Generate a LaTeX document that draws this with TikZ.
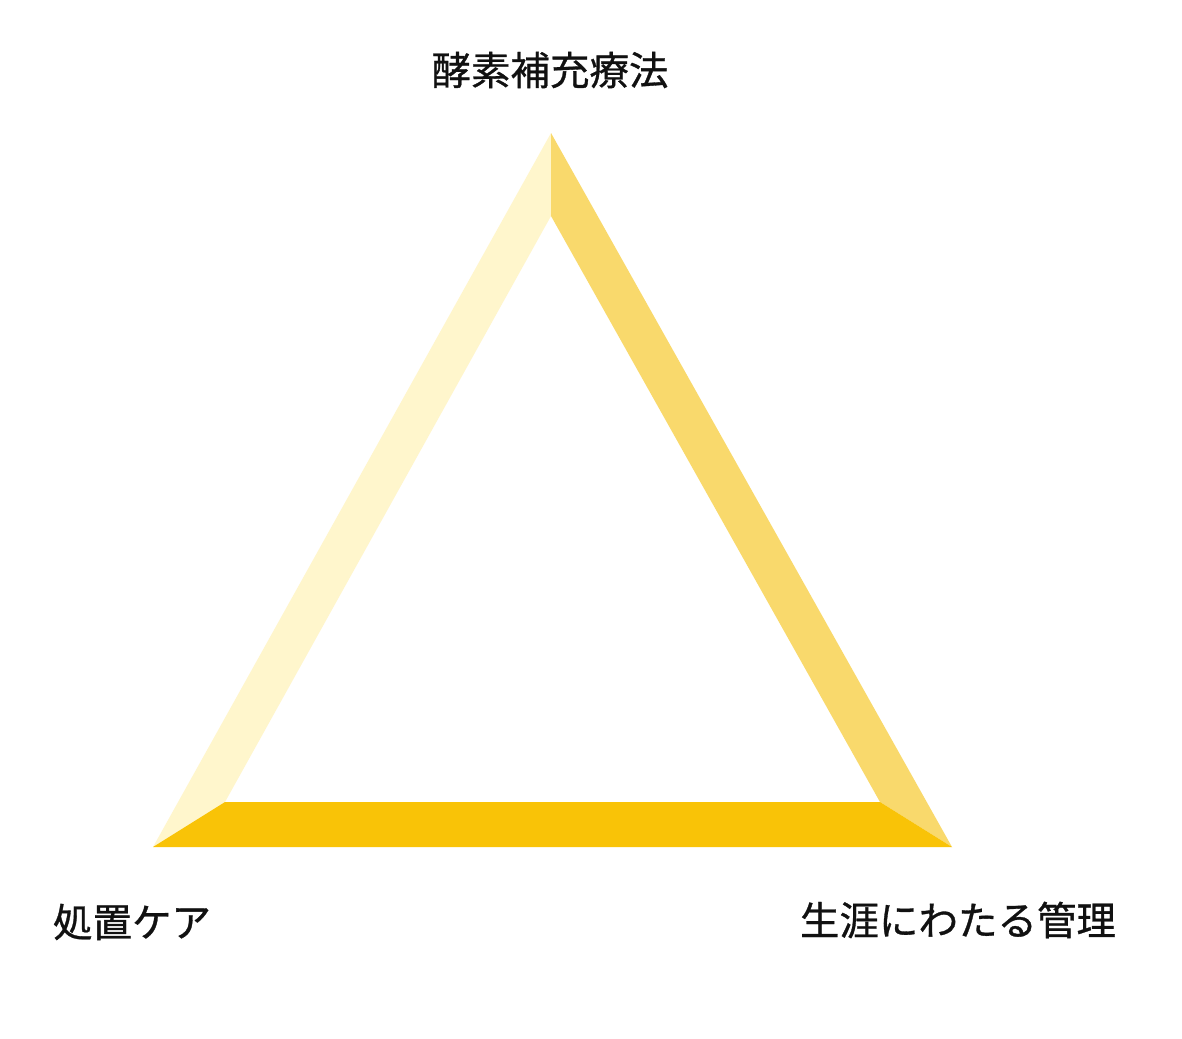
\documentclass[tikz,border=0pt]{standalone}
\usepackage{fontspec}
\newfontfamily\jpfont[FakeBold=0.8]{Noto Sans CJK JP}
\definecolor{leftface}{HTML}{FFF6CC}
\definecolor{rightface}{HTML}{F9D96C}
\definecolor{bottomface}{HTML}{F9C307}
\definecolor{labeltext}{HTML}{111111}
\tikzset{
  lbl/.style={font=\jpfont\fontsize{39.5}{42}\selectfont, text=labeltext, inner sep=0pt, anchor=center},
}
\begin{document}
\begin{tikzpicture}[x=1pt,y=-1pt]
\useasboundingbox[fill=white] (0,0) rectangle (1182,1038);
% outer vertices
\coordinate (A) at (551,133);
\coordinate (B) at (153,847);
\coordinate (C) at (952,847);
% inner vertices
\coordinate (a) at (551,216);
\coordinate (b) at (225,802);
\coordinate (c) at (880,802);
% faces
\fill[leftface] (A) -- (a) -- (b) -- (B) -- cycle;
\fill[rightface] (A) -- (C) -- (c) -- (a) -- cycle;
\fill[bottomface] (B) -- (b) -- (c) -- (C) -- cycle;
% labels
\node[lbl] (top) at (550,70) {酵素補充療法};
\node[lbl] (left) at (132,922) {処置ケア};
\node[lbl] (right) at (958,920) {生涯にわたる管理};
\end{tikzpicture}
\end{document}
